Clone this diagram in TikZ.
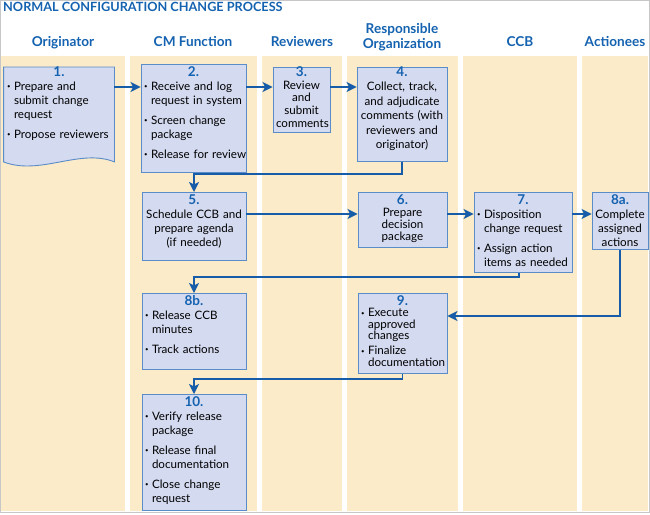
\documentclass[tikz,border=0pt]{standalone}
\usepackage{fontspec}
\setmainfont{Lato}
\usetikzlibrary{arrows.meta,backgrounds}
\definecolor{lane}{HTML}{FBEBC8}
\definecolor{boxfill}{HTML}{D4DAF0}
\definecolor{boxline}{HTML}{5A8CC8}
\definecolor{flowblue}{HTML}{165CA9}
\definecolor{headblue}{HTML}{1462B0}
\hyphenpenalty=10000
\exhyphenpenalty=10000
\hbadness=10000
\hfuzz=20pt
\newcommand{\stepno}[1]{{\centering\fontsize{13.5}{13.5}\selectfont\bfseries\color{headblue}#1\par}}
\newcommand{\itm}[2][6pt]{\hangindent=7pt\hangafter=1\noindent\makebox[7pt][l]{\raisebox{1.5pt}{\fontsize{6}{6}\selectfont\textbullet}}#2\par\vskip#1}
\begin{document}
\begin{tikzpicture}[x=1pt,y=-1pt,
    procbox/.style={draw=boxline, fill=boxfill, line width=0.9pt, anchor=north,
      inner xsep=3pt, inner ysep=1pt, text height=11pt, align=left,
      font=\fontsize{11.6}{14}\selectfont},
    lanehead/.style={font=\fontsize{13.6}{15}\selectfont\bfseries, text=headblue,
      anchor=base, align=center},
    flow/.style={draw=flowblue, line width=1.4pt,
      -{Stealth[length=10pt,width=10pt,inset=2.5pt]}}]
  \useasboundingbox (0,0) rectangle (650,514);

  % swim lanes
  \begin{scope}[on background layer]
    \foreach \xa/\xb in {1/125,130/257,262/342,347/458,463/577,582/648}
      \fill[lane] (\xa,56) rectangle (\xb,511);
  \end{scope}
  \draw[black!22, line width=1pt] (0.5,0.5) rectangle (649.5,512.5);

  \node[font=\fontsize{12.7}{14}\selectfont\bfseries, text=headblue, anchor=base west,
    inner sep=0pt] (title) at (3,11) {NORMAL CONFIGURATION CHANGE PROCESS};

  \node[lanehead] (hOrig) at (63,46) {Originator};
  \node[lanehead] (hCM) at (193,46) {CM Function};
  \node[lanehead] (hRev) at (302,46) {Reviewers};
  \node[lanehead, anchor=center] (hResp) at (402,37) {Responsible\\Organization};
  \node[lanehead] (hCCB) at (520,46) {CCB};
  \node[lanehead] (hAct) at (615,46) {Actionees};

  % row 1
  \node[procbox, draw=none, fill=none, text width=104pt, text height=8pt, text depth=84pt]
    (b1) at (59,67) {\stepno{1.}\itm{Prepare~and\newline submit~change\newline request}\itm{Propose~reviewers}};
  \begin{scope}[on background layer]
    \filldraw[fill=boxfill, draw=boxline, line width=0.9pt] (b1.north west) -- (b1.north east)
      -- (b1.south east) .. controls (80,148) and (40,176) .. (b1.south west) -- cycle;
  \end{scope}
  \node[procbox, text width=99pt, text depth=95pt] (b2) at (193.5,64)
    {\stepno{2.}\itm{Receive~and~log\newline request~in~system}\itm{Screen~change\newline package}\itm{Release~for~review}};
  \node[procbox, align=center, text width=51pt, text height=8pt, text depth=55pt,
    font=\fontsize{11.6}{12.7}\selectfont] (b3) at (301.5,67)
    {\stepno{3.}Review\\and\\submit\\comments};
  \node[procbox, align=center, text width=84pt, text height=8pt, text depth=84pt,
    font=\fontsize{11.6}{14.5}\selectfont] (b4) at (402,67)
    {\stepno{4.}Collect,~track,\\and~adjudicate\\comments~(with\\reviewers~and\\originator)};

  % row 2
  \node[procbox, align=center, text width=98pt, text depth=55pt] (b5) at (194,192)
    {\stepno{5.}Schedule~CCB~and\\prepare~agenda\\(if~needed)};
  \node[procbox, align=center, text width=83pt, text depth=42pt,
    font=\fontsize{11.6}{12}\selectfont] (b6) at (402.5,192)
    {\stepno{6.}Prepare\\decision\\package};
  \node[procbox, text width=92pt, text depth=67pt] (b7) at (523,192)
    {\stepno{7.}\itm{Disposition\newline change~request}\itm{Assign~action\newline items~as~needed}};
  \node[procbox, align=center, text width=50pt, text depth=44pt] (b8a) at (620,192)
    {\stepno{8a.}Complete\\assigned\\actions};

  % row 3
  \node[procbox, text width=98pt, text depth=63pt] (b8b) at (194,293)
    {\stepno{8b.}\itm{Release~CCB\newline minutes}\itm{Track~actions}};
  \node[procbox, text width=83pt, text depth=67pt,
    font=\fontsize{11.6}{11.5}\selectfont] (b9) at (402.5,293)
    {\stepno{9.}\itm[3.5pt]{Execute\newline approved\newline changes}\itm{Finalize\newline documentation}};

  % row 4
  \node[procbox, text width=98pt, text depth=103pt] (b10) at (194,394)
    {\stepno{10.}\itm{Verify~release\newline package}\itm{Release~final\newline documentation}\itm{Close~change\newline request}};

  % flow
  \coordinate (r1) at ([yshift=-20pt]b1.north east);
  \coordinate (r2) at ([yshift=-23pt]b2.north east);
  \coordinate (r3) at ([yshift=-20pt]b3.north east);
  \draw[flow] (r1) -- (r1 -| b2.west);
  \draw[flow] (r2) -- (r2 -| b3.west);
  \draw[flow] (r3) -- (r3 -| b4.west);
  \draw[flow] (b4.south) -- ++(0,12) -| (b5.north);

  \coordinate (r5) at ([yshift=-22pt]b5.north east);
  \coordinate (r6) at ([yshift=-22pt]b6.north east);
  \coordinate (r7) at ([yshift=-22pt]b7.north east);
  \draw[flow] (r5) -- (r5 -| b6.west);
  \draw[flow] (r6) -- (r6 -| b7.west);
  \draw[flow] (r7) -- (r7 -| b8a.west);
  \draw[flow] ([xshift=-4pt]b7.south) -- ++(0,4) -| (b8b.north);

  \coordinate (r9) at ([yshift=-23pt]b9.north east);
  \draw[flow] (b8a.south) |- (r9);
  \draw[flow] (b9.south) -- ++(0,5) -| (b10.north);
\end{tikzpicture}
\end{document}
